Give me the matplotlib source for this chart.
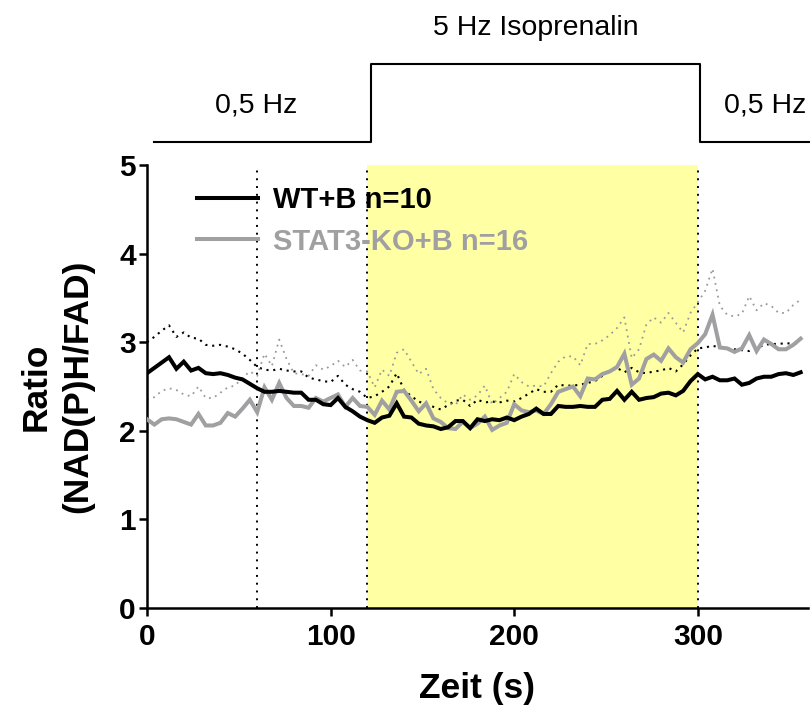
import numpy as np
import matplotlib
matplotlib.use("Agg")
import matplotlib.pyplot as plt
import matplotlib.transforms as mtransforms
from matplotlib.lines import Line2D

# ---------------- data ----------------
time_s = np.arange(0, 360, 4)

wt_mean = [2.65, 2.71, 2.77, 2.83, 2.70, 2.78, 2.68, 2.71, 2.65, 2.64,
           2.65, 2.63, 2.60, 2.58, 2.53, 2.48, 2.44, 2.44, 2.45, 2.44,
           2.43, 2.43, 2.35, 2.35, 2.30, 2.29, 2.37, 2.27, 2.22, 2.16,
           2.12, 2.09, 2.15, 2.17, 2.31, 2.16, 2.15, 2.08, 2.06, 2.05,
           2.02, 2.04, 2.11, 2.11, 2.03, 2.13, 2.11, 2.13, 2.12, 2.15,
           2.12, 2.16, 2.19, 2.25, 2.19, 2.19, 2.28, 2.27, 2.27, 2.28,
           2.27, 2.27, 2.35, 2.36, 2.45, 2.35, 2.44, 2.35, 2.37, 2.38,
           2.42, 2.43, 2.40, 2.45, 2.56, 2.64, 2.58, 2.61, 2.57, 2.57,
           2.59, 2.52, 2.54, 2.59, 2.61, 2.61, 2.64, 2.65, 2.63, 2.66]

wt_upper = [3.00, 3.06, 3.13, 3.19, 3.06, 3.11, 3.05, 3.04, 2.97, 2.96,
            2.97, 2.95, 2.92, 2.87, 2.80, 2.72, 2.69, 2.68, 2.70, 2.68,
            2.67, 2.67, 2.60, 2.58, 2.56, 2.55, 2.62, 2.52, 2.47, 2.44,
            2.37, 2.39, 2.44, 2.50, 2.65, 2.46, 2.39, 2.33, 2.30, 2.27,
            2.24, 2.29, 2.34, 2.35, 2.28, 2.35, 2.32, 2.33, 2.32, 2.34,
            2.33, 2.37, 2.42, 2.47, 2.44, 2.44, 2.52, 2.51, 2.51, 2.52,
            2.54, 2.56, 2.62, 2.67, 2.71, 2.66, 2.71, 2.66, 2.65, 2.67,
            2.68, 2.71, 2.67, 2.75, 2.85, 2.93, 2.94, 2.96, 2.94, 2.93,
            2.92, 2.91, 2.90, 2.93, 2.97, 2.98, 2.98, 2.99, 2.98, 2.99]

ko_mean = [2.13, 2.07, 2.13, 2.14, 2.13, 2.10, 2.07, 2.19, 2.06, 2.06,
           2.09, 2.20, 2.16, 2.25, 2.35, 2.21, 2.49, 2.35, 2.54, 2.37,
           2.28, 2.28, 2.26, 2.37, 2.33, 2.37, 2.41, 2.27, 2.37, 2.28,
           2.27, 2.18, 2.34, 2.24, 2.44, 2.45, 2.34, 2.22, 2.31, 2.14,
           2.10, 2.03, 2.02, 2.10, 2.03, 2.08, 2.16, 2.01, 2.06, 2.09,
           2.30, 2.23, 2.21, 2.23, 2.19, 2.30, 2.44, 2.47, 2.50, 2.39,
           2.59, 2.58, 2.64, 2.67, 2.72, 2.87, 2.52, 2.59, 2.81, 2.86,
           2.79, 2.93, 2.83, 2.77, 2.92, 2.99, 3.09, 3.31, 2.94, 2.93,
           2.89, 2.93, 3.08, 2.90, 3.03, 2.98, 2.92, 2.92, 2.97, 3.04]

ko_upper = [2.35, 2.38, 2.45, 2.48, 2.46, 2.41, 2.39, 2.50, 2.37, 2.37,
            2.43, 2.49, 2.51, 2.60, 2.67, 2.62, 2.87, 2.73, 3.03, 2.81,
            2.65, 2.64, 2.62, 2.74, 2.69, 2.73, 2.79, 2.72, 2.80, 2.68,
            2.67, 2.49, 2.69, 2.62, 2.88, 2.92, 2.78, 2.64, 2.70, 2.47,
            2.37, 2.31, 2.29, 2.41, 2.35, 2.40, 2.51, 2.30, 2.37, 2.44,
            2.64, 2.55, 2.50, 2.51, 2.50, 2.65, 2.78, 2.84, 2.84, 2.74,
            2.98, 2.98, 3.02, 3.08, 3.16, 3.28, 2.82, 2.92, 3.20, 3.28,
            3.22, 3.33, 3.22, 3.11, 3.33, 3.45, 3.58, 3.83, 3.41, 3.31,
            3.29, 3.32, 3.52, 3.36, 3.44, 3.41, 3.33, 3.33, 3.42, 3.48]

series_labels = ["WT+B n=10", "STAT3-KO+B n=16"]
x_ticks = [0, 100, 200, 300]
y_ticks = [0, 1, 2, 3, 4, 5]
marker_times = [60, 120, 300]
iso_window = (120, 300)
phase_labels = ["0,5 Hz", "5 Hz Isoprenalin", "0,5 Hz"]

# ---------------- style ----------------
FONT = "Liberation Sans"
BLACK = "#000000"
GREY = "#a0a0a2"
GREY_DOT = "#9a9a9a"
YELLOW = "#ffffa3"

plt.rcParams["font.family"] = [FONT, "DejaVu Sans"]

fig = plt.figure(figsize=(8.1, 7.1), dpi=100)
ax = fig.add_axes([0.1815, 0.1437, 0.8160, 0.6239])

ax.axvspan(iso_window[0], iso_window[1], color=YELLOW, zorder=0, lw=0)
for t in marker_times:
    ax.axvline(t, color=BLACK, lw=1.4, dashes=(1, 3), zorder=1)

ax.plot(time_s, wt_upper, color=BLACK, lw=1.5, dashes=(1, 2.3), zorder=2)
ax.plot(time_s, ko_upper, color=GREY_DOT, lw=1.3, dashes=(1, 2.6), zorder=2)
ax.plot(time_s, ko_mean, color=GREY, lw=2.9, zorder=3, solid_joinstyle="miter")
ax.plot(time_s, wt_mean, color=BLACK, lw=2.9, zorder=4, solid_joinstyle="miter")

ax.set_xlim(0, 360)
ax.set_ylim(0, 5)
ax.set_xticks(x_ticks)
ax.set_yticks(y_ticks)
for s in ["top", "right"]:
    ax.spines[s].set_visible(False)
for s in ["left", "bottom"]:
    ax.spines[s].set_linewidth(1.8)
ax.tick_params(axis="both", width=1.8, length=6, direction="out",
               labelsize=21.5)
ax.tick_params(axis="y", pad=2)
ax.tick_params(axis="x", pad=5)
for lab in ax.get_xticklabels() + ax.get_yticklabels():
    lab.set_fontweight("bold")

ax.set_xlabel("Zeit (s)", fontsize=25.5, fontweight="bold")
ax.xaxis.set_label_coords(0.5, -0.145)
ax.set_ylabel("Ratio\n(NAD(P)H/FAD)", fontsize=25.5, fontweight="bold",
              linespacing=1.32)
ax.yaxis.set_label_coords(-0.08, 0.5)

handles = [Line2D([], [], color=BLACK, lw=2.9),
           Line2D([], [], color=GREY, lw=2.9)]
leg = ax.legend(handles, series_labels, loc="upper left",
                bbox_to_anchor=(0.0756, 0.953), frameon=False,
                borderpad=0, borderaxespad=0, handlelength=2.1,
                handletextpad=0.5, labelspacing=0.47,
                prop={"family": FONT, "weight": "bold", "size": 21})
for txt, c in zip(leg.get_texts(), [BLACK, GREY]):
    txt.set_color(c)

# protocol step line above the plot
trans = mtransforms.blended_transform_factory(ax.transData, fig.transFigure)
low_y, high_y = 1 - 142 / 710, 1 - 64 / 710
step_x = [4, 122, 122, 301, 301, 362]
step_y = [low_y, low_y, high_y, high_y, low_y, low_y]
fig.add_artist(Line2D(step_x, step_y, color=BLACK, lw=1.5, transform=trans))

text_kw = dict(transform=trans, ha="center", va="center", fontsize=20.5,
               family=FONT)
fig.text(59.3, 1 - 105 / 710, phase_labels[0], **text_kw)
fig.text(211.6, 1 - 28 / 710, phase_labels[1], **text_kw)
fig.text(336.8, 1 - 105 / 710, phase_labels[2], **text_kw)

fig.savefig("out.png", dpi=100)
